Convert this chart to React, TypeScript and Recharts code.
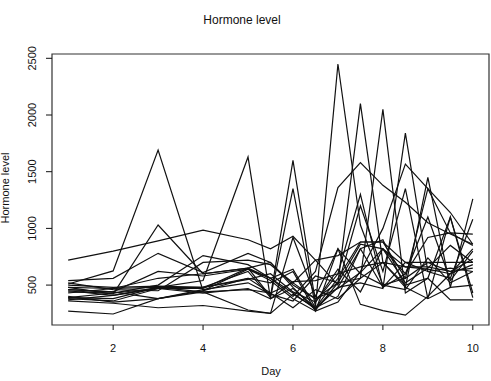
import React from 'react';
import { LineChart, Line, XAxis, YAxis, ReferenceArea } from 'recharts';

const days = [1, 2, 3, 4, 5, 5.5, 6, 6.5, 7, 7.5, 8, 8.5, 9, 9.5, 10];

// one array per subject, hormone level at each sampled day
const s01 = [510, 625, 1690, 450, 560, 430, 520, 380, 470, 610, 820, 660, 640, 600, 680];
const s02 = [450, 410, 480, 540, 1630, 380, 470, 300, 560, 880, 880, 560, 700, 620, 730];
const s03 = [390, 430, 470, 470, 650, 400, 1600, 350, 600, 1300, 480, 600, 1100, 540, 800];
const s04 = [380, 360, 470, 480, 620, 390, 1350, 310, 2450, 1030, 500, 560, 1350, 960, 850];
const s05 = [720, 800, 890, 985, 900, 820, 930, 720, 760, 880, 880, 700, 620, 650, 620];
const s06 = [480, 420, 1030, 600, 650, 700, 500, 380, 520, 2100, 700, 480, 380, 480, 500];
const s07 = [540, 560, 780, 610, 780, 700, 480, 280, 520, 560, 2050, 430, 560, 1100, 430];
const s08 = [440, 430, 500, 760, 680, 560, 430, 290, 480, 520, 470, 1840, 620, 560, 1080];
const s09 = [460, 440, 620, 580, 640, 560, 400, 620, 1360, 1580, 1380, 1230, 1050, 950, 860];
const s10 = [270, 245, 380, 450, 640, 540, 380, 270, 350, 620, 1000, 1567, 1350, 1140, 860];
const s11 = [480, 470, 480, 440, 280, 250, 920, 400, 820, 330, 275, 235, 400, 600, 820];
const s12 = [360, 340, 300, 320, 270, 250, 420, 300, 480, 820, 900, 480, 1450, 480, 1260];
const s13 = [520, 460, 450, 700, 720, 680, 520, 720, 500, 1200, 620, 1350, 380, 1100, 390];
const s14 = [390, 380, 480, 480, 550, 600, 440, 350, 640, 440, 820, 600, 920, 960, 950];
const s15 = [430, 470, 560, 600, 650, 560, 640, 300, 400, 820, 480, 700, 700, 700, 700];
const s16 = [370, 410, 470, 430, 470, 380, 530, 540, 600, 660, 700, 660, 660, 620, 650];
const s17 = [460, 440, 380, 440, 460, 430, 300, 460, 380, 560, 700, 500, 560, 370, 370];
const s18 = [400, 350, 380, 460, 520, 420, 360, 580, 520, 860, 820, 520, 650, 850, 700];
const s19 = [500, 480, 490, 480, 560, 520, 620, 270, 820, 600, 500, 460, 740, 520, 620];

const subjects = [s01, s02, s03, s04, s05, s06, s07, s08, s09, s10, s11, s12, s13, s14, s15, s16, s17, s18, s19];
const xTicks = [2, 4, 6, 8, 10];
const yTicks = [500, 1000, 1500, 2000, 2500];

const FONT = '"Liberation Sans", Arial, Helvetica, sans-serif';
const INK = '#111';

const chartData = days.map((day, i) => {
  const row: Record<string, number> = { day };
  subjects.forEach((s, k) => {
    row[`s${k}`] = s[i];
  });
  return row;
});

// R-style y labels, turned to read upward
const YTick = ({ x, y, payload }: any) => (
  <text
    x={x - 8}
    y={y}
    transform={`rotate(-90 ${x - 8} ${y})`}
    textAnchor="middle"
    fontSize={11}
    fontFamily={FONT}
    fill={INK}
  >
    {payload.value}
  </text>
);

export default function App() {
  return (
    <div style={{ position: 'absolute', left: 0, top: 0, width: 491, height: 381, background: '#fff', fontFamily: FONT, color: INK }}>
      <div style={{ position: 'absolute', left: 242, top: 14, transform: 'translateX(-50%)', fontSize: 12, lineHeight: '12px', whiteSpace: 'nowrap' }}>
        Hormone level
      </div>
      <div style={{ position: 'absolute', left: 271, top: 366, transform: 'translateX(-50%)', fontSize: 11, lineHeight: '11px' }}>
        Day
      </div>
      <div
        style={{
          position: 'absolute',
          left: 5,
          top: 188,
          transform: 'translate(-50%, -50%) rotate(-90deg)',
          fontSize: 11,
          lineHeight: '11px',
          whiteSpace: 'nowrap',
        }}
      >
        Hormone level
      </div>
      <LineChart width={491} height={381} data={chartData} margin={{ top: 54, right: 2, bottom: 0, left: 0 }}>
        <XAxis
          dataKey="day"
          type="number"
          domain={[0.64, 10.36]}
          ticks={xTicks}
          allowDataOverflow
          height={56}
          axisLine={false}
          tickSize={5}
          tickMargin={14}
          tickLine={{ stroke: INK }}
          tick={{ fontSize: 11, fontFamily: FONT, fill: INK }}
        />
        <YAxis
          type="number"
          domain={[148, 2538]}
          ticks={yTicks}
          allowDataOverflow
          width={52}
          axisLine={false}
          tickSize={6}
          tickMargin={2}
          tickLine={{ stroke: INK }}
          tick={<YTick />}
        />
        <ReferenceArea x1={0.64} x2={10.36} y1={148} y2={2538} fill="none" stroke="#333" strokeWidth={1.2} />
        {subjects.map((_, k) => (
          <Line
            key={k}
            dataKey={`s${k}`}
            type="linear"
            stroke={INK}
            strokeWidth={1.2}
            dot={false}
            activeDot={false}
            isAnimationActive={false}
          />
        ))}
      </LineChart>
    </div>
  );
}
